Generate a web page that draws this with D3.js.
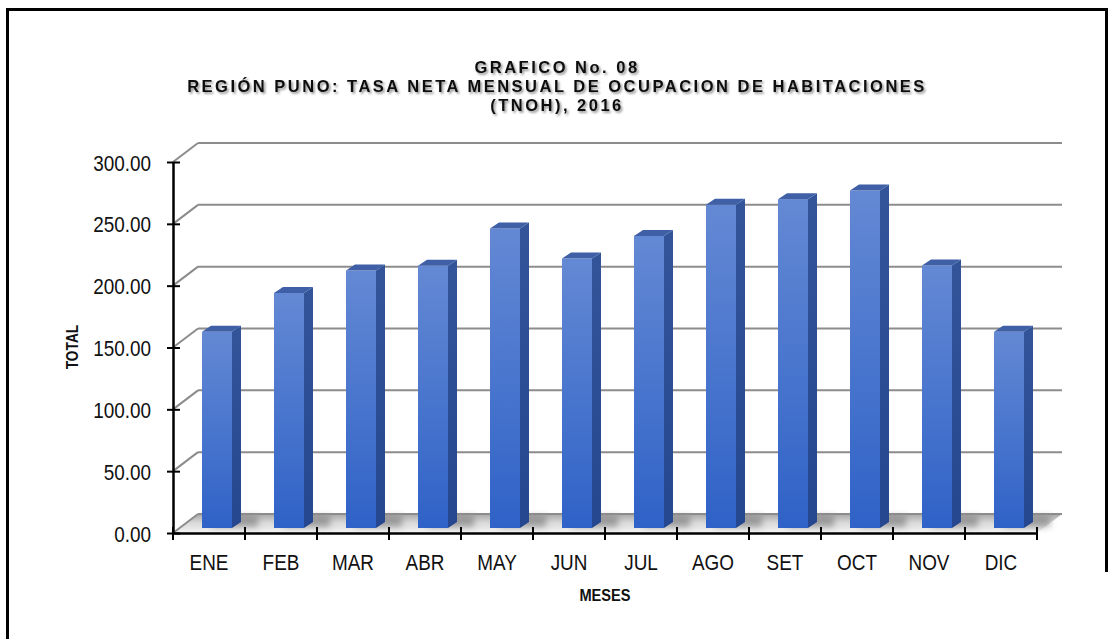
<!DOCTYPE html>
<html>
<head>
<meta charset="utf-8">
<script src="https://cdn.jsdelivr.net/npm/d3@7"></script>
<style>
  body { margin: 0; background: #fff; }
  svg { display: block; font-family: "Liberation Sans", Arial, sans-serif; }
</style>
</head>
<body>
<svg width="1110" height="639"></svg>
<script>
// data
var months = ["ENE", "FEB", "MAR", "ABR", "MAY", "JUN", "JUL", "AGO", "SET", "OCT", "NOV", "DIC"];
var tnoh = [158.6, 190.1, 208.2, 212.0, 242.2, 217.9, 236.2, 261.3, 265.9, 272.9, 212.2, 158.6];
var yTicks = [0, 50, 100, 150, 200, 250, 300];
var titleLines = ["GRAFICO No. 08", "REGIÓN PUNO: TASA NETA MENSUAL DE OCUPACION DE HABITACIONES", "(TNOH), 2016"];

var svg = d3.select("svg");

var x = d3.scaleBand().domain(months).range([173, 1037]);
var y = d3.scaleLinear().domain([0, 300]).range([533, 162]);

// 3d offsets: back wall, bar depth position, bar depth
var wallDx = 25, wallDy = -19;
var barDx = 8, barDy = -5;
var barW = 30, depthX = 9, depthY = -6;
var sx = 0.86; // text looks horizontally squeezed

var defs = svg.append("defs");

var front = defs.append("linearGradient").attr("id", "front").attr("x1", 0).attr("y1", 0).attr("x2", 0).attr("y2", 1);
front.append("stop").attr("offset", "0%").attr("stop-color", "#6489d4");
front.append("stop").attr("offset", "100%").attr("stop-color", "#2f62c7");

var side = defs.append("linearGradient").attr("id", "side").attr("x1", 0).attr("y1", 0).attr("x2", 0).attr("y2", 1);
side.append("stop").attr("offset", "0%").attr("stop-color", "#34549a");
side.append("stop").attr("offset", "100%").attr("stop-color", "#24478f");

var floorGrad = defs.append("linearGradient").attr("id", "floor").attr("x1", 0).attr("y1", 0).attr("x2", 0).attr("y2", 1);
floorGrad.append("stop").attr("offset", "0%").attr("stop-color", "#a8a8a8");
floorGrad.append("stop").attr("offset", "45%").attr("stop-color", "#d8d8d8");
floorGrad.append("stop").attr("offset", "100%").attr("stop-color", "#f4f4f4");

defs.append("filter").attr("id", "blur").attr("x", "-50%").attr("y", "-50%").attr("width", "200%").attr("height", "200%")
  .append("feGaussianBlur").attr("stdDeviation", 3);

defs.append("filter").attr("id", "tshadow")
  .append("feDropShadow").attr("dx", 1.6).attr("dy", 1.8).attr("stdDeviation", 1)
  .attr("flood-color", "#000").attr("flood-opacity", 0.45);

// frame
svg.append("path")
    .attr("d", "M7.5,639 V9.5 H1106.5 V572")
    .attr("fill", "none")
    .attr("stroke", "#000")
    .attr("stroke-width", 3);

// title
svg.append("g")
    .attr("filter", "url(#tshadow)")
  .selectAll("text")
  .data(titleLines)
  .enter().append("text")
    .attr("x", 557)
    .attr("y", function(d, i) { return 73 + i * 19; })
    .attr("text-anchor", "middle")
    .attr("font-size", 16.5)
    .attr("font-weight", "bold")
    .attr("letter-spacing", 2.5)
    .attr("fill", "#111")
    .text(function(d) { return d; });

// floor
var x0 = x.range()[0], x1 = x.range()[1];
svg.append("path")
    .attr("d", "M" + x0 + "," + y(0) + "L" + x1 + "," + y(0) + "L" + (x1 + wallDx) + "," + (y(0) + wallDy) +
               "L" + (x0 + wallDx) + "," + (y(0) + wallDy) + "Z")
    .attr("fill", "url(#floor)");

// bar shadows on the floor
svg.append("g")
    .attr("filter", "url(#blur)")
  .selectAll("rect")
  .data(tnoh)
  .enter().append("rect")
    .attr("x", function(d, i) { return x(months[i]) + x.bandwidth() / 2 - barW / 2 + barDx + 10; })
    .attr("y", y(0) + wallDy + 2)
    .attr("width", barW + 16)
    .attr("height", 11)
    .attr("fill", "#555")
    .attr("opacity", 0.45);

// grid: back wall + left wall
var grid = svg.append("g").attr("stroke", "#8c8c8c").attr("stroke-width", 2).attr("fill", "none");
grid.selectAll(".back")
  .data(yTicks)
  .enter().append("line")
    .attr("class", "back")
    .attr("x1", x0 + wallDx)
    .attr("x2", x1 + wallDx)
    .attr("y1", function(d) { return y(d) + wallDy; })
    .attr("y2", function(d) { return y(d) + wallDy; });
grid.selectAll(".side")
  .data(yTicks)
  .enter().append("line")
    .attr("class", "side")
    .attr("x1", x0)
    .attr("x2", x0 + wallDx)
    .attr("y1", function(d) { return y(d); })
    .attr("y2", function(d) { return y(d) + wallDy; });

// bars
var bars = svg.append("g").selectAll("g")
  .data(tnoh)
  .enter().append("g")
    .attr("transform", function(d, i) {
      return "translate(" + (x(months[i]) + x.bandwidth() / 2 - barW / 2 + barDx) + ",0)";
    });

bars.append("rect")
    .attr("y", function(d) { return y(d) + barDy; })
    .attr("width", barW)
    .attr("height", function(d) { return y(0) - y(d); })
    .attr("fill", "url(#front)");

bars.append("path")
    .attr("d", function(d) {
      var t = y(d) + barDy, b = y(0) + barDy;
      return "M" + barW + "," + t + "L" + (barW + depthX) + "," + (t + depthY) +
             "L" + (barW + depthX) + "," + (b + depthY) + "L" + barW + "," + b + "Z";
    })
    .attr("fill", "url(#side)");

bars.append("path")
    .attr("d", function(d) {
      var t = y(d) + barDy;
      return "M0," + t + "L" + depthX + "," + (t + depthY) + "L" + (barW + depthX) + "," + (t + depthY) +
             "L" + barW + "," + t + "Z";
    })
    .attr("fill", "#3f5fa6");

// y axis
var yAxis = svg.append("g")
    .attr("transform", "translate(" + x0 + ",0)")
    .call(d3.axisLeft(y).tickValues(yTicks).tickSize(0).tickPadding(0).tickFormat(d3.format(".2f")));
yAxis.select(".domain").attr("stroke", "#000").attr("stroke-width", 2.5);
yAxis.selectAll(".tick line").attr("x1", -6).attr("x2", 7).attr("stroke", "#000").attr("stroke-width", 2);
yAxis.selectAll(".tick text")
    .attr("x", null).attr("dy", null)
    .attr("transform", "translate(-22,8) scale(" + sx + ",1)")
    .attr("font-size", 22)
    .attr("font-family", "'Liberation Sans', Arial, sans-serif")
    .attr("fill", "#111");

// x axis
var xAxis = svg.append("g")
    .attr("transform", "translate(0," + y(0) + ")")
    .call(d3.axisBottom(x).tickSize(0).tickPadding(0));
xAxis.select(".domain").attr("stroke", "#000").attr("stroke-width", 2.5);
xAxis.selectAll(".tick text")
    .attr("y", null).attr("dy", null)
    .attr("transform", "translate(0,37) scale(" + sx + ",1)")
    .attr("font-size", 22)
    .attr("font-family", "'Liberation Sans', Arial, sans-serif")
    .attr("fill", "#111");
var bounds = months.map(function(m) { return x(m); }).concat([x1]);
xAxis.selectAll(".bound")
  .data(bounds)
  .enter().append("line")
    .attr("class", "bound")
    .attr("x1", function(d) { return d; })
    .attr("x2", function(d) { return d; })
    .attr("y1", -6)
    .attr("y2", 7)
    .attr("stroke", "#000")
    .attr("stroke-width", 2);

// axis titles
svg.append("text")
    .attr("transform", "translate(78,347) rotate(-90) scale(" + sx + ",1)")
    .attr("text-anchor", "middle")
    .attr("font-size", 16)
    .attr("font-weight", "bold")
    .attr("fill", "#111")
    .text("TOTAL");

svg.append("text")
    .attr("transform", "translate(605,601) scale(" + sx + ",1)")
    .attr("text-anchor", "middle")
    .attr("font-size", 17)
    .attr("font-weight", "bold")
    .attr("fill", "#111")
    .text("MESES");
</script>
</body>
</html>
